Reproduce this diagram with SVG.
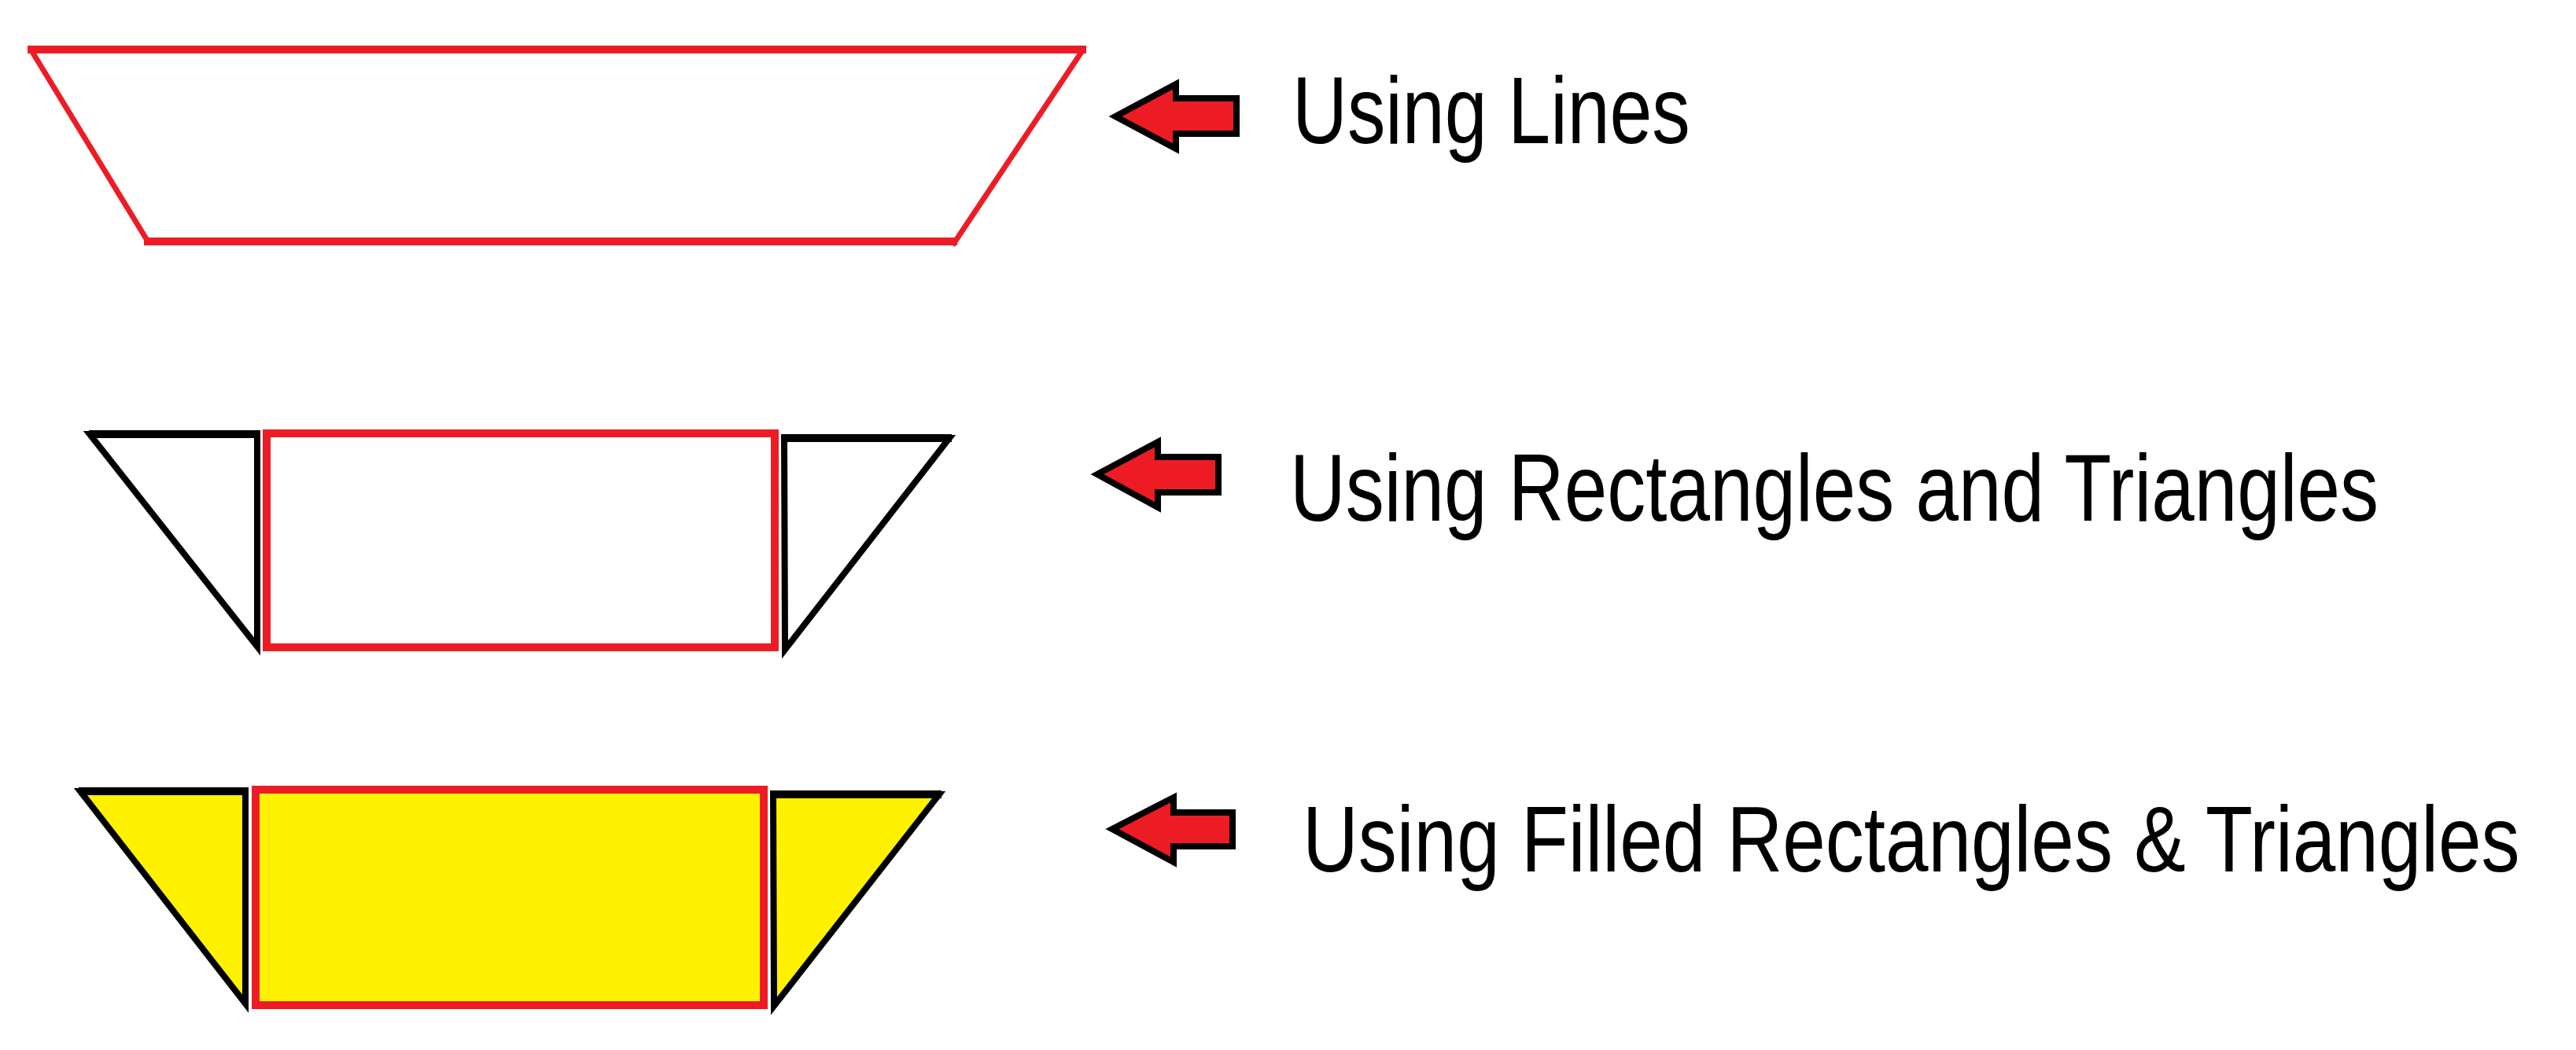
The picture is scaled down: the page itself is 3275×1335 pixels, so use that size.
<svg xmlns="http://www.w3.org/2000/svg" width="3275" height="1335" viewBox="0 0 3275 1335">
<style>
.red{stroke:#ED1C24;fill:none;stroke-linecap:square}
.tri{stroke:#000;stroke-width:8;stroke-linejoin:miter}
.arrow{fill:#ED1C24;stroke:#000;stroke-width:8;stroke-linejoin:miter}
.lbl{font-family:"Liberation Sans",Arial,sans-serif;fill:#000}
</style>
<rect width="3275" height="1335" fill="#fff"/>
<g id="lines-shape">
<line class="red" x1="40" y1="63" x2="1376" y2="63" stroke-width="10"/>
<line class="red" x1="188" y1="307" x2="1212" y2="307" stroke-width="10"/>
<line class="red" x1="41" y1="66" x2="188" y2="307" stroke-width="7"/>
<line class="red" x1="1375" y1="66" x2="1213" y2="309" stroke-width="7"/>
</g>
<g id="rect-tri-shape">
<polygon class="tri" fill="none" points="114,552 327,552 327,822"/>
<line x1="113" y1="552" x2="331" y2="552" stroke="#000" stroke-width="10"/>
<rect x="339" y="551" width="646" height="272" fill="none" stroke="#ED1C24" stroke-width="10"/>
<polygon class="tri" fill="none" points="997,557 1207,557 998,826"/>
<line x1="993" y1="557" x2="1210" y2="557" stroke="#000" stroke-width="10"/>
</g>
<g id="filled-shape">
<polygon class="tri" fill="#FFF200" points="102,1006 312,1006 312,1276"/>
<line x1="100" y1="1006" x2="316" y2="1006" stroke="#000" stroke-width="10"/>
<rect x="325" y="1004" width="646" height="274" fill="#FFF200" stroke="#ED1C24" stroke-width="10"/>
<polygon class="tri" fill="#FFF200" points="983,1010 1194,1010 984,1279"/>
<line x1="979" y1="1010" x2="1197" y2="1010" stroke="#000" stroke-width="10"/>
</g>
<g id="arrow1">
<polygon class="arrow" points="1418,148 1495,107 1495,125 1572,125 1572,170 1495,170 1495,189"/>
</g>
<g id="arrow2">
<polygon class="arrow" points="1395,603 1472,562 1472,581 1549,581 1549,626 1472,626 1472,645"/>
</g>
<g id="arrow3">
<polygon class="arrow" points="1414,1054 1492,1014 1492,1033 1567,1033 1567,1076 1492,1076 1492,1096"/>
</g>
<g id="labels">
<text class="lbl" font-size="121" transform="translate(1643,182) scale(0.8,1)">Using Lines</text>
<text class="lbl" font-size="120" transform="translate(1640,662) scale(0.817,1)">Using Rectangles and Triangles</text>
<text class="lbl" font-size="119" transform="translate(1656,1108) scale(0.824,1)">Using Filled Rectangles &amp; Triangles</text>
</g>
</svg>
